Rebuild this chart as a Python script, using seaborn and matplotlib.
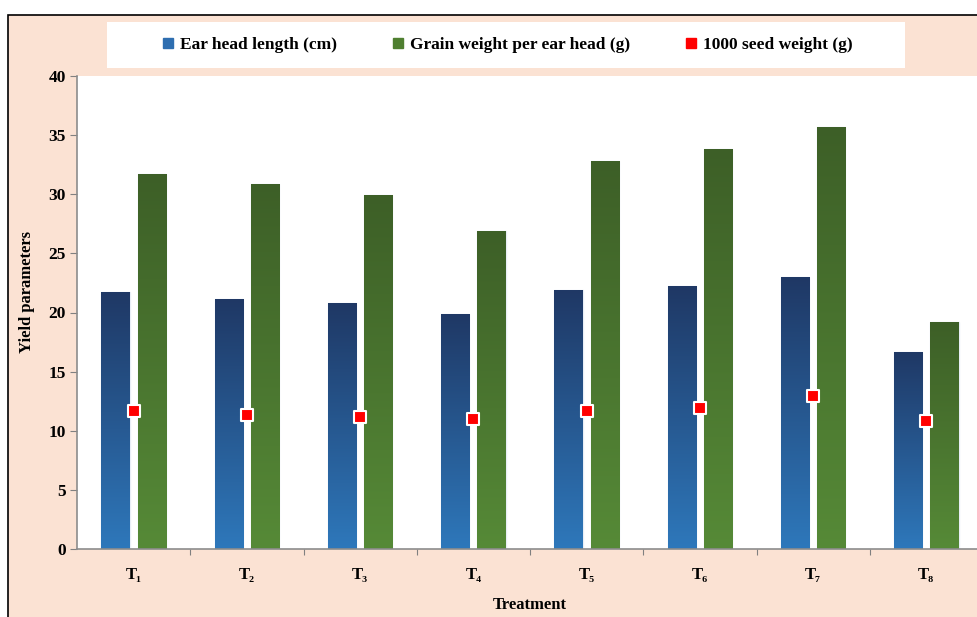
import seaborn as sns
import matplotlib.pyplot as plt
import matplotlib.colors as mcolors
from matplotlib.patches import Rectangle
from matplotlib.lines import Line2D
import numpy as np
import pandas as pd

# Data
treatments = ["T₁", "T₂", "T₃", "T₄", "T₅", "T₆", "T₇", "T₈"]
ear_head_length = [21.7, 21.1, 20.8, 19.9, 21.9, 22.2, 23.0, 16.7]
grain_weight = [31.7, 30.9, 29.9, 26.9, 32.8, 33.8, 35.7, 19.2]
seed_weight_1000 = [11.7, 11.3, 11.2, 11.0, 11.7, 11.9, 12.9, 10.8]

series_names = ["Ear head length (cm)", "Grain weight per ear head (g)", "1000 seed weight (g)"]

bars = pd.DataFrame({
    "Treatment": treatments * 2,
    "Value": ear_head_length + grain_weight,
    "Series": [series_names[0]] * 8 + [series_names[1]] * 8,
})
seeds = pd.DataFrame({"Treatment": treatments, "Value": seed_weight_1000})

serif = ["Liberation Serif", "DejaVu Serif"]
plt.rcParams["font.family"] = serif
plt.rcParams["font.weight"] = "bold"

peach = "#fbe2d3"
blue_top, blue_bot = "#1f3865", "#2e78bb"
green_top, green_bot = "#3d5f27", "#568a37"

fig = plt.figure(figsize=(9.77, 6.17), dpi=100, facecolor="white")
fig.patches.append(Rectangle((8 / 977, -0.01), 1.0, (617 - 15) / 617 + 0.01,
                             transform=fig.transFigure, facecolor=peach,
                             edgecolor="black", linewidth=1.2, zorder=-2))
# legend box
fig.patches.append(Rectangle((107 / 977, 1 - 68 / 617), 798 / 977, 46 / 617,
                             transform=fig.transFigure, facecolor="white",
                             edgecolor="none", zorder=-1))

ax = fig.add_axes([77 / 977, 68 / 617, 906 / 977, 473 / 617])
ax.set_facecolor("white")

sns.barplot(data=bars, x="Treatment", y="Value", hue="Series", order=treatments,
            palette=[blue_bot, green_bot], width=0.64, gap=0.22, dodge=True,
            legend=False, ax=ax, zorder=2)

# gradient fill clipped to each bar
for i, p in enumerate(ax.patches[:16]):
    top_c, bot_c = (blue_top, blue_bot) if i < 8 else (green_top, green_bot)
    cmap = mcolors.LinearSegmentedColormap.from_list("g", [bot_c, top_c])
    x0, y0 = p.get_x(), p.get_y()
    w, h = p.get_width(), p.get_height()
    grad = np.linspace(0, 1, 256).reshape(-1, 1)
    im = ax.imshow(grad, cmap=cmap, origin="lower", aspect="auto",
                   extent=[x0, x0 + w, y0, y0 + h], zorder=2.5)
    im.set_clip_path(p)
    p.set_edgecolor("#e8eef6")
    p.set_linewidth(1.0)

sns.stripplot(data=seeds, x="Treatment", y="Value", order=treatments, jitter=False,
              marker="s", size=9, color="#ff0000", edgecolor="white", linewidth=1.5,
              ax=ax, zorder=5)

ax.set_xlim(-0.5, 7.5)
ax.set_ylim(0, 40)
ax.set_yticks(range(0, 41, 5))
ax.set_xticks(np.arange(0.5, 7, 1), minor=False)
ax.set_xticklabels([])
ax.set_xticks(range(8), minor=True)
ax.set_xticklabels(treatments, minor=True, fontsize=12, fontweight="bold")
ax.tick_params(axis="x", which="minor", length=0, pad=13)
ax.tick_params(axis="x", which="major", length=4, color="#808080", direction="out")
ax.tick_params(axis="y", length=5, color="#808080", labelsize=12.5, pad=3)
for lab in ax.get_yticklabels():
    lab.set_fontweight("bold")

for s in ["top", "right"]:
    ax.spines[s].set_visible(False)
for s in ["left", "bottom"]:
    ax.spines[s].set_color("#8c8c8c")
    ax.spines[s].set_linewidth(1.2)

ax.set_xlabel("")
ax.set_ylabel("")
fig.text(530 / 977, 1 - 605 / 617, "Treatment", ha="center", va="center",
         fontsize=12, fontweight="bold")
fig.text(27 / 977, 1 - 292 / 617, "Yield parameters", ha="center", va="center",
         rotation=90, fontsize=12, fontweight="bold")

handles = [
    Line2D([], [], marker="s", linestyle="none", color="#2e6eb0", markersize=7),
    Line2D([], [], marker="s", linestyle="none", color="#4f7f30", markersize=7),
    Line2D([], [], marker="s", linestyle="none", color="#ff0000", markersize=7),
]
leg = fig.legend(handles, series_names, loc="center", ncol=3,
                 bbox_to_anchor=(506 / 977, 1 - 45 / 617), frameon=False,
                 prop={"weight": "bold", "size": 12.5}, handletextpad=0.2,
                 columnspacing=3.0, handlelength=1.0)

fig.savefig("out.png", dpi=100, facecolor=fig.get_facecolor())
